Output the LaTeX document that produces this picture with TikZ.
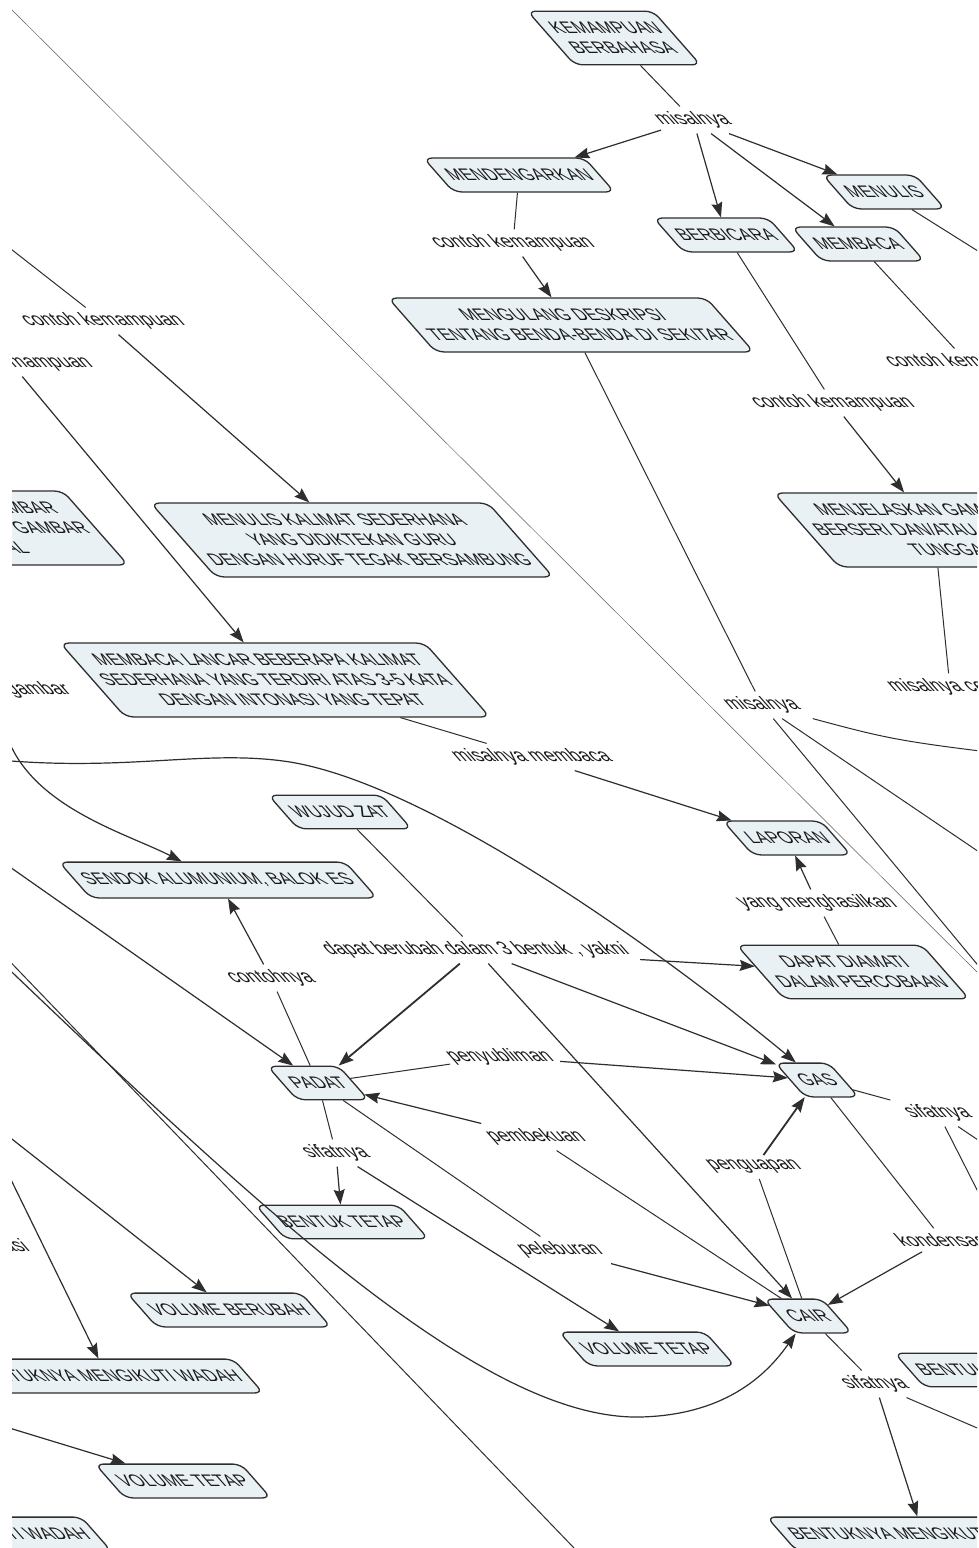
\documentclass[tikz,border=0pt]{standalone}
\usepackage{fontspec}
\setmainfont{Liberation Sans}
\usetikzlibrary{arrows.meta,calc}
\definecolor{cmfill}{HTML}{E9F1F4}
\definecolor{cmline}{HTML}{2E2E2E}

\begin{document}
\begin{tikzpicture}[x=1pt,y=-1pt,
    concept/.style={draw=cmline, line width=1.3pt, fill=cmfill, rounded corners=8pt,
      xslant=-0.88, align=center, inner xsep=9pt, inner ysep=11pt,
      font=\fontsize{16.7}{20}\selectfont, text=black!90},
    phrase/.style={xslant=-0.88, inner sep=5pt, font=\fontsize{18}{21}\selectfont, text=black!90},
    link/.style={draw=cmline, line width=1pt},
    arr/.style={link, line width=1.2pt, -{Stealth[length=15pt,width=11pt,inset=2pt]}},
    faint/.style={draw=black!65, line width=0.5pt}]
    \fill[white] (0,0) rectangle (979,1548);
    \useasboundingbox (0,0) rectangle (979,1548);
    \begin{scope}
    \clip (12,0) rectangle (977,1548);
        % concepts
        \node[concept] (kb) at (614,38) {KEMAMPUAN\\BERBAHASA};
        \node[concept] (mdg) at (519,175) {MENDENGARKAN};
        \node[concept] (mnl) at (884,192) {MENULIS};
        \node[concept] (bcr) at (726,235) {BERBICARA};
        \node[concept] (mbc) at (858,244) {MEMBACA};
        \node[concept] (mgl) at (571,325) {MENGULANG DESKRIPSI\\TENTANG BENDA-BENDA DI SEKITAR};
        \node[concept] (mjg) at (934,530) {MENJELASKAN GAMBAR\\BERSERI DAN/ATAU GAMBAR\\TUNGGAL};
        \node[concept] (mcg) at (-32,528) {MENCERITAKAN GAMBAR\\BERSERI DAN/ATAU GAMBAR\\TUNGGAL};
        \node[concept] (mkal) at (352,540) {MENULIS KALIMAT SEDERHANA\\YANG DIDIKTEKAN GURU\\DENGAN HURUF TEGAK BERSAMBUNG};
        \node[concept] (mlan) at (275,680) {MEMBACA LANCAR BEBERAPA KALIMAT\\SEDERHANA YANG TERDIRI ATAS 3-5 KATA\\DENGAN INTONASI YANG TEPAT};
        \node[concept] (wz) at (340,812) {WUJUD ZAT};
        \node[concept] (lap) at (787,838) {LAPORAN};
        \node[concept] (sdk) at (218,880) {SENDOK ALUMUNIUM, BALOK ES};
        \node[concept] (dap) at (853,972) {DAPAT DIAMATI\\DALAM PERCOBAAN};
        \node[concept] (pdt) at (318,1083) {PADAT};
        \node[concept] (gas) at (817,1080) {GAS};
        \node[concept] (btt) at (342,1222) {BENTUK TETAP};
        \node[concept] (vb) at (229,1310) {VOLUME BERUBAH};
        \node[concept] (cair) at (808,1316) {CAIR};
        \node[concept] (vt) at (647,1349) {VOLUME TETAP};
        \node[concept] (bmwl) at (107,1376) {BENTUKNYA MENGIKUTI WADAH};
        \node[concept] (btb) at (995,1370) {BENTUK BERUBAH};
        \node[concept] (vtl) at (183,1481) {VOLUME TETAP};
        \node[concept] (bmw) at (923,1534) {BENTUKNYA MENGIKUTI WADAH};
        \node[concept] (wdh) at (-45,1534) {BENTUKNYA MENGIKUTI WADAH};
        % linking phrases
        \node[phrase] (p1) at (693,120) {misalnya};
        \node[phrase] (p2) at (513,243) {contoh kemampuan};
        \node[phrase] (p3) at (103,321) {contoh kemampuan};
        \node[phrase] (p4) at (11,363) {contoh kemampuan};
        \node[phrase] (p5) at (967,362) {contoh kemampuan};
        \node[phrase] (p6) at (833,403) {contoh kemampuan};
        \node[phrase] (p7) at (950,687) {misalnya cerita};
        \node[phrase] (p8) at (0,690) {misalnya gambar};
        \node[phrase] (p9) at (762,705) {misalnya};
        \node[phrase] (p10) at (532,757) {misalnya membaca};
        \node[phrase] (p11) at (817,903) {yang menghasilkan};
        \node[phrase] (p12) at (476,950) {dapat berubah dalam 3 bentuk , yakni};
        \node[phrase] (p13) at (271,978) {contohnya};
        \node[phrase] (p14) at (500,1057) {penyubliman};
        \node[phrase] (p15) at (938,1113) {sifatnya};
        \node[phrase] (p16) at (536,1137) {pembekuan};
        \node[phrase] (p17) at (336,1153) {sifatnya};
        \node[phrase] (p18) at (755,1167) {penguapan};
        \node[phrase] (p19) at (943,1240) {kondensasi};
        \node[phrase] (p20) at (560,1250) {peleburan};
        \node[phrase] (p21) at (-20,1245) {kondensasi};
        \node[phrase] (p22) at (875,1384) {sifatnya};
        % free ends outside the frame
        \coordinate (r1) at (1040,290);
        \coordinate (r2) at (985,800);
        \coordinate (r3) at (1100,765);
        \coordinate (r4) at (1050,900);
        \coordinate (r5) at (1040,1040);
        \coordinate (r6) at (1000,1235);
        \coordinate (r7) at (1030,1175);
        \coordinate (r8) at (1040,1455);
        \coordinate (l1) at (-30,217);
        \coordinate (l2) at (-40,832);
        \coordinate (l3) at (-30,920);
        \coordinate (b1) at (600,1575);
        \coordinate (l4) at (-30,932);
        \coordinate (l5) at (-30,1106);
        \coordinate (l6) at (-5,1147);
        \coordinate (l7) at (-30,1416);
        \coordinate (l8) at (-30,757);
        \coordinate (t1) at (-10,-12);
        \coordinate (b2) at (1000,995);
        % connectors
        \draw[faint] (t1) -- (b2);
        \draw[link] (kb) -- (p1);
        \draw[arr] (p1) -- (mdg);
        \draw[arr] (p1) -- (bcr);
        \draw[arr] (p1) -- (mbc);
        \draw[arr] (p1) -- (mnl);
        \draw[link] (mdg) -- (p2);
        \draw[arr] (p2) -- (mgl);
        \draw[link] (bcr) -- (p6);
        \draw[arr] (p6) -- (mjg);
        \draw[link] (mbc) -- (p5);
        \draw[link] (mnl) -- (r1);
        \draw[link] (mgl) -- (p9);
        \draw[link] (mjg) -- (p7);
        \draw[link] ($(p7.south)+(22,0)$) -- (r2);
        \draw[link] (p9) .. controls (900,742) .. (r3);
        \draw[link] (p9) -- (r4);
        \draw[link] (p9) -- (r5);
        \draw[link] (l1) -- (p3);
        \draw[arr] (p3) -- (mkal);
        \draw[arr] (p4) -- (mlan);
        \draw[arr] (p8) .. controls (5,800) and (120,830) .. (sdk);
        \draw[arr] (l8) .. controls (120,775) and (200,748) .. (290,762)
            .. controls (430,785) and (660,950) .. (gas);
        \draw[link] (mlan) -- (p10);
        \draw[arr] (p10) -- (lap);
        \draw[link] (dap) -- (p11);
        \draw[arr] (p11) -- (lap);
        \draw[link] (wz) -- (p12);
        \draw[arr, line width=1.8pt] (p12) -- (pdt);
        \draw[arr] (p12) -- (cair);
        \draw[arr] (p12) -- (gas);
        \draw[arr] (p12) -- (dap);
        \draw[link] (pdt) -- (p13);
        \draw[arr] (p13) -- (sdk);
        \draw[link] (pdt) -- (p14);
        \draw[arr] (p14) -- (gas);
        \draw[link] (cair) -- (p16);
        \draw[arr] (p16) -- (pdt);
        \draw[link] (pdt) -- (p17);
        \draw[arr] (p17) -- (btt);
        \draw[arr] (p17) -- (vt);
        \draw[link] (pdt) -- (p20);
        \draw[arr] (p20) -- (cair);
        \draw[link] (cair) -- (p18);
        \draw[arr, line width=1.8pt] (p18) -- (gas);
        \draw[link] (gas) -- (p19);
        \draw[arr] (p19) -- (cair);
        \draw[link] (gas) -- (p15);
        \draw[link] (p15) -- (r6);
        \draw[link] (p15) -- (r7);
        \draw[link] (cair) -- (p22);
        \draw[arr] (p22) -- (bmw);
        \draw[link] (p22) -- (r8);
        \draw[arr] (l2) -- (pdt);
        \draw[link] (l3) -- (b1);
        \draw[arr] (l4) .. controls (250,1200) and (480,1420) .. (640,1417)
            .. controls (730,1415) and (770,1370) .. (cair);
        \draw[arr] (l5) -- (vb);
        \draw[arr] (l6) -- (bmwl);
        \draw[arr] (l7) -- (vtl);
    \end{scope}
\end{tikzpicture}
\end{document}
